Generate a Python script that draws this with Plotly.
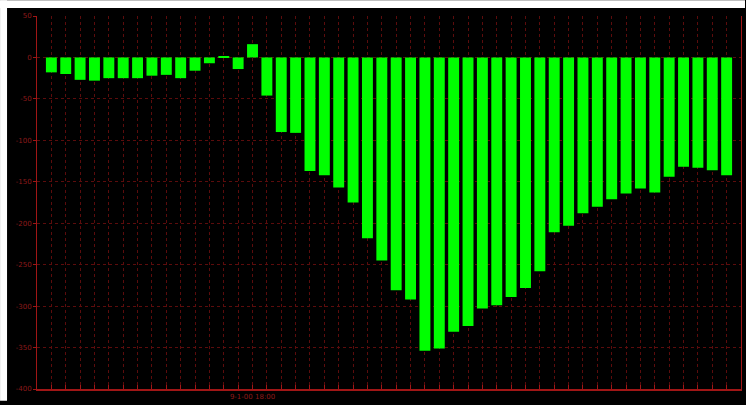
import plotly.graph_objects as go

# Per-interval change values (one bar per interval)
values = [-18, -20, -27, -28, -25, -25, -25, -22, -21, -25, -16, -7, 1.5, -14, 16,
          -46, -90, -91, -137, -142, -157, -175, -218, -245, -281, -292, -354, -351,
          -331, -324, -303, -299, -289, -278, -258, -211, -203, -188, -180, -171,
          -164, -158, -163, -144, -132, -133, -136, -142]
positions = list(range(len(values)))

# Value axis ticks
y_ticks = [50, 0, -50, -100, -150, -200, -250, -300, -350, -400]
y_tick_text = ["50", "0", "-50", "-100", "-150", "-200", "-250", "-300", "-350", "-400"]

# Time axis: a single labelled tick
x_label_index = 14
x_label_text = "9-1-00 18:00"

RED_TXT = "#8e1a1a"
GRID = "#5c0c0c"
AXIS = "#a01616"

x_ticktext = [x_label_text if i == x_label_index else "" for i in positions]

fig = go.Figure(
    go.Bar(
        x=positions,
        y=values,
        marker=dict(color="#00ff00", line=dict(width=0)),
        width=0.76,
    )
)

W, H = 746, 405
ml, mr, mt, mb = 37, 4, 16, 12
pw, ph = W - ml - mr, H - mt - mb

def px_x(p):
    return (p - ml) / pw

def px_y(p):
    return (H - mb - p) / ph

fig.update_layout(
    width=W,
    height=H,
    margin=dict(l=ml, r=mr, t=mt, b=mb, pad=0),
    paper_bgcolor="#000000",
    plot_bgcolor="#000000",
    showlegend=False,
    bargap=0.24,
    font=dict(family="DejaVu Sans", size=7, color=RED_TXT),
    xaxis=dict(
        range=[-1, len(values)],
        tickmode="array",
        tickvals=positions,
        ticktext=x_ticktext,
        showgrid=True,
        gridcolor=GRID,
        griddash="dot",
        gridwidth=1,
        showline=True,
        linecolor=AXIS,
        linewidth=2,
        ticks="inside",
        ticklen=4,
        tickcolor=AXIS,
        tickfont=dict(size=7, color=RED_TXT),
        zeroline=False,
        fixedrange=True,
    ),
    yaxis=dict(
        range=[-400, 50],
        tickmode="array",
        tickvals=y_ticks,
        ticktext=y_tick_text,
        showgrid=True,
        gridcolor=GRID,
        griddash="dot",
        gridwidth=1,
        showline=True,
        mirror=True,
        linecolor=AXIS,
        linewidth=1,
        ticks="outside",
        ticklen=3,
        tickcolor=AXIS,
        tickfont=dict(size=7, color=RED_TXT),
        zeroline=False,
        fixedrange=True,
    ),
    shapes=[
        # thin white frame along the top and left edges
        dict(type="rect", xref="paper", yref="paper",
             x0=px_x(0), x1=px_x(7), y0=px_y(H), y1=px_y(0),
             fillcolor="#ffffff", line=dict(width=0), layer="above"),
        dict(type="rect", xref="paper", yref="paper",
             x0=px_x(0), x1=px_x(W), y0=px_y(8), y1=px_y(0),
             fillcolor="#ffffff", line=dict(width=0), layer="above"),
    ],
)

page_js = (
    "document.documentElement.style.margin='0';"
    "document.documentElement.style.overflow='hidden';"
    "document.documentElement.style.background='#000';"
    "document.body.style.margin='0';"
    "document.body.style.overflow='hidden';"
    "document.body.style.background='#000';"
)

fig.write_html("out.html", config={"displayModeBar": False}, post_script=page_js)
